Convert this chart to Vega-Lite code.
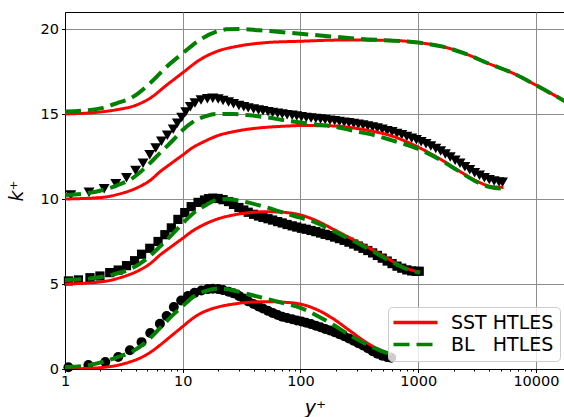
{
  "$schema": "https://vega.github.io/schema/vega-lite/v6.json",
  "width": 500,
  "height": 357,
  "autosize": {"type": "none"},
  "padding": {"left": 65, "top": 12, "right": 0, "bottom": 48},
  "background": "white",
  "config": {
    "view": {"stroke": "#000000", "strokeWidth": 1},
    "font": "DejaVu Sans",
    "axis": {
      "domainColor": "#000000", "domainWidth": 1,
      "tickColor": "#000000", "tickWidth": 1,
      "labelColor": "#000000", "titleColor": "#000000",
      "labelFont": "DejaVu Sans", "labelFontSize": 14.5,
      "titleFont": "DejaVu Sans",
      "gridColor": "#8c8c8c", "gridWidth": 1
    }
  },
  "datasets": {
    "dns": [
      {"c":"550","yp":1.07,"kp":0.1},{"c":"550","yp":1.58,"kp":0.24},{"c":"550","yp":2.2,"kp":0.41},{"c":"550","yp":2.83,"kp":0.71},{"c":"550","yp":3.56,"kp":1.1},{"c":"550","yp":4.47,"kp":1.58},{"c":"550","yp":5.3,"kp":2.12},{"c":"550","yp":6.4,"kp":2.66},{"c":"550","yp":7.3,"kp":3.12},{"c":"550","yp":8.4,"kp":3.65},{"c":"550","yp":9.7,"kp":4.03},{"c":"550","yp":11.1,"kp":4.3},{"c":"550","yp":12.6,"kp":4.48},{"c":"550","yp":14.4,"kp":4.62},{"c":"550","yp":16.3,"kp":4.7},
      {"c":"550","yp":18,"kp":4.72},{"c":"550","yp":20,"kp":4.7},{"c":"550","yp":22,"kp":4.64},{"c":"550","yp":24.5,"kp":4.55},{"c":"550","yp":27,"kp":4.45},{"c":"550","yp":30,"kp":4.3},{"c":"550","yp":33,"kp":4.15},{"c":"550","yp":36,"kp":3.98},{"c":"550","yp":40,"kp":3.82},{"c":"550","yp":44,"kp":3.68},{"c":"550","yp":48,"kp":3.56},{"c":"550","yp":53,"kp":3.42},{"c":"550","yp":58,"kp":3.3},{"c":"550","yp":64,"kp":3.18},{"c":"550","yp":70,"kp":3.07},{"c":"550","yp":77,"kp":3.0},{"c":"550","yp":85,"kp":2.93},{"c":"550","yp":93,"kp":2.86},{"c":"550","yp":102,"kp":2.8},{"c":"550","yp":112,"kp":2.72},{"c":"550","yp":123,"kp":2.64},{"c":"550","yp":135,"kp":2.55},{"c":"550","yp":148,"kp":2.46},{"c":"550","yp":162,"kp":2.36},{"c":"550","yp":178,"kp":2.26},{"c":"550","yp":195,"kp":2.16},{"c":"550","yp":214,"kp":2.05},{"c":"550","yp":235,"kp":1.93},{"c":"550","yp":258,"kp":1.8},{"c":"550","yp":283,"kp":1.66},{"c":"550","yp":310,"kp":1.52},{"c":"550","yp":340,"kp":1.38},{"c":"550","yp":373,"kp":1.22},{"c":"550","yp":410,"kp":1.05},{"c":"550","yp":450,"kp":0.9},{"c":"550","yp":495,"kp":0.78},{"c":"550","yp":545,"kp":0.7},{"c":"550","yp":590,"kp":0.66},
      {"c":"1000","yp":1.07,"kp":5.18},{"c":"1000","yp":1.3,"kp":5.24},{"c":"1000","yp":1.63,"kp":5.37},{"c":"1000","yp":1.98,"kp":5.47},{"c":"1000","yp":2.4,"kp":5.67},{"c":"1000","yp":2.83,"kp":5.82},{"c":"1000","yp":3.33,"kp":6.08},{"c":"1000","yp":3.9,"kp":6.37},{"c":"1000","yp":4.47,"kp":6.75},{"c":"1000","yp":5.25,"kp":7.1},{"c":"1000","yp":6.17,"kp":7.5},{"c":"1000","yp":7.05,"kp":7.9},{"c":"1000","yp":8.0,"kp":8.3},{"c":"1000","yp":9.1,"kp":8.8},{"c":"1000","yp":10.4,"kp":9.2},{"c":"1000","yp":11.8,"kp":9.55},{"c":"1000","yp":13.5,"kp":9.8},{"c":"1000","yp":15.3,"kp":9.94},{"c":"1000","yp":16.6,"kp":10.02},
      {"c":"1000","yp":18,"kp":10.05},{"c":"1000","yp":20,"kp":10.03},{"c":"1000","yp":22,"kp":9.96},{"c":"1000","yp":24.5,"kp":9.85},{"c":"1000","yp":27,"kp":9.68},{"c":"1000","yp":30,"kp":9.5},{"c":"1000","yp":33,"kp":9.35},{"c":"1000","yp":36,"kp":9.22},{"c":"1000","yp":40,"kp":9.1},{"c":"1000","yp":44,"kp":9.0},{"c":"1000","yp":48,"kp":8.92},{"c":"1000","yp":53,"kp":8.84},{"c":"1000","yp":58,"kp":8.76},{"c":"1000","yp":64,"kp":8.67},{"c":"1000","yp":70,"kp":8.59},{"c":"1000","yp":77,"kp":8.5},{"c":"1000","yp":85,"kp":8.42},{"c":"1000","yp":93,"kp":8.35},{"c":"1000","yp":102,"kp":8.28},{"c":"1000","yp":112,"kp":8.22},{"c":"1000","yp":123,"kp":8.15},{"c":"1000","yp":135,"kp":8.08},{"c":"1000","yp":148,"kp":8.0},{"c":"1000","yp":162,"kp":7.92},{"c":"1000","yp":178,"kp":7.85},{"c":"1000","yp":195,"kp":7.76},{"c":"1000","yp":214,"kp":7.67},{"c":"1000","yp":235,"kp":7.57},{"c":"1000","yp":258,"kp":7.46},{"c":"1000","yp":283,"kp":7.35},{"c":"1000","yp":310,"kp":7.23},{"c":"1000","yp":340,"kp":7.1},{"c":"1000","yp":373,"kp":6.97},{"c":"1000","yp":410,"kp":6.83},{"c":"1000","yp":450,"kp":6.68},{"c":"1000","yp":495,"kp":6.52},{"c":"1000","yp":545,"kp":6.35},{"c":"1000","yp":600,"kp":6.2},{"c":"1000","yp":660,"kp":6.05},{"c":"1000","yp":725,"kp":5.93},{"c":"1000","yp":800,"kp":5.83},{"c":"1000","yp":880,"kp":5.77},{"c":"1000","yp":960,"kp":5.74},{"c":"1000","yp":1020,"kp":5.75},
      {"c":"5200","yp":1.12,"kp":10.24},{"c":"5200","yp":1.6,"kp":10.4},{"c":"5200","yp":2.15,"kp":10.6},{"c":"5200","yp":2.7,"kp":10.9},{"c":"5200","yp":3.33,"kp":11.25},{"c":"5200","yp":3.98,"kp":11.68},{"c":"5200","yp":4.6,"kp":12.1},{"c":"5200","yp":5.25,"kp":12.6},{"c":"5200","yp":5.9,"kp":13.0},{"c":"5200","yp":6.6,"kp":13.4},{"c":"5200","yp":7.4,"kp":13.75},{"c":"5200","yp":8.3,"kp":14.1},{"c":"5200","yp":9.0,"kp":14.45},{"c":"5200","yp":9.8,"kp":14.8},{"c":"5200","yp":10.6,"kp":15.12},{"c":"5200","yp":11.6,"kp":15.42},{"c":"5200","yp":12.7,"kp":15.65},{"c":"5200","yp":14.3,"kp":15.82},{"c":"5200","yp":16.2,"kp":15.9},
      {"c":"5200","yp":18,"kp":15.92},{"c":"5200","yp":20,"kp":15.88},{"c":"5200","yp":22,"kp":15.8},{"c":"5200","yp":24.5,"kp":15.7},{"c":"5200","yp":27,"kp":15.6},{"c":"5200","yp":30,"kp":15.5},{"c":"5200","yp":33,"kp":15.42},{"c":"5200","yp":36,"kp":15.36},{"c":"5200","yp":40,"kp":15.3},{"c":"5200","yp":44,"kp":15.24},{"c":"5200","yp":48,"kp":15.19},{"c":"5200","yp":53,"kp":15.14},{"c":"5200","yp":58,"kp":15.09},{"c":"5200","yp":64,"kp":15.04},{"c":"5200","yp":70,"kp":15.0},{"c":"5200","yp":77,"kp":14.96},{"c":"5200","yp":85,"kp":14.92},{"c":"5200","yp":93,"kp":14.88},{"c":"5200","yp":102,"kp":14.84},{"c":"5200","yp":112,"kp":14.8},{"c":"5200","yp":123,"kp":14.77},{"c":"5200","yp":135,"kp":14.73},{"c":"5200","yp":148,"kp":14.7},{"c":"5200","yp":162,"kp":14.67},{"c":"5200","yp":178,"kp":14.63},{"c":"5200","yp":195,"kp":14.6},{"c":"5200","yp":214,"kp":14.56},{"c":"5200","yp":235,"kp":14.52},{"c":"5200","yp":258,"kp":14.48},{"c":"5200","yp":283,"kp":14.44},{"c":"5200","yp":310,"kp":14.4},{"c":"5200","yp":340,"kp":14.35},{"c":"5200","yp":373,"kp":14.3},{"c":"5200","yp":410,"kp":14.24},{"c":"5200","yp":450,"kp":14.17},{"c":"5200","yp":495,"kp":14.1},{"c":"5200","yp":545,"kp":14.02},{"c":"5200","yp":600,"kp":13.95},{"c":"5200","yp":660,"kp":13.86},{"c":"5200","yp":725,"kp":13.78},{"c":"5200","yp":800,"kp":13.68},{"c":"5200","yp":880,"kp":13.58},{"c":"5200","yp":965,"kp":13.48},{"c":"5200","yp":1060,"kp":13.37},{"c":"5200","yp":1165,"kp":13.25},{"c":"5200","yp":1280,"kp":13.12},{"c":"5200","yp":1410,"kp":12.97},{"c":"5200","yp":1550,"kp":12.82},{"c":"5200","yp":1700,"kp":12.65},{"c":"5200","yp":1870,"kp":12.47},{"c":"5200","yp":2060,"kp":12.28},{"c":"5200","yp":2265,"kp":12.1},{"c":"5200","yp":2490,"kp":11.9},{"c":"5200","yp":2740,"kp":11.72},{"c":"5200","yp":3015,"kp":11.55},{"c":"5200","yp":3315,"kp":11.4},{"c":"5200","yp":3650,"kp":11.25},{"c":"5200","yp":4015,"kp":11.14},{"c":"5200","yp":4415,"kp":11.06},{"c":"5200","yp":4860,"kp":11.0},{"c":"5200","yp":5200,"kp":10.99}
    ],
    "lines": [
      {"m":"SST HTLES","g":0,"yp":1,"kp":0.0},{"m":"SST HTLES","g":0,"yp":1.5,"kp":0.03},{"m":"SST HTLES","g":0,"yp":2,"kp":0.08},{"m":"SST HTLES","g":0,"yp":2.8,"kp":0.22},{"m":"SST HTLES","g":0,"yp":3.5,"kp":0.4},{"m":"SST HTLES","g":0,"yp":4.3,"kp":0.63},{"m":"SST HTLES","g":0,"yp":5.3,"kp":0.98},{"m":"SST HTLES","g":0,"yp":6.4,"kp":1.4},{"m":"SST HTLES","g":0,"yp":8,"kp":1.95},{"m":"SST HTLES","g":0,"yp":10,"kp":2.5},{"m":"SST HTLES","g":0,"yp":12,"kp":2.95},{"m":"SST HTLES","g":0,"yp":14,"kp":3.25},{"m":"SST HTLES","g":0,"yp":17,"kp":3.5},{"m":"SST HTLES","g":0,"yp":20,"kp":3.65},{"m":"SST HTLES","g":0,"yp":27,"kp":3.82},{"m":"SST HTLES","g":0,"yp":37,"kp":3.93},{"m":"SST HTLES","g":0,"yp":52,"kp":3.96},{"m":"SST HTLES","g":0,"yp":71,"kp":3.93},{"m":"SST HTLES","g":0,"yp":100,"kp":3.82},{"m":"SST HTLES","g":0,"yp":137,"kp":3.5},{"m":"SST HTLES","g":0,"yp":190,"kp":2.95},{"m":"SST HTLES","g":0,"yp":263,"kp":2.25},{"m":"SST HTLES","g":0,"yp":365,"kp":1.55},{"m":"SST HTLES","g":0,"yp":473,"kp":1.12},{"m":"SST HTLES","g":0,"yp":590,"kp":0.88},
      {"m":"SST HTLES","g":5,"yp":1,"kp":5.0},{"m":"SST HTLES","g":5,"yp":2.1,"kp":5.14},{"m":"SST HTLES","g":5,"yp":2.8,"kp":5.33},{"m":"SST HTLES","g":5,"yp":4.3,"kp":5.82},{"m":"SST HTLES","g":5,"yp":5.3,"kp":6.2},{"m":"SST HTLES","g":5,"yp":6.4,"kp":6.7},{"m":"SST HTLES","g":5,"yp":8,"kp":7.2},{"m":"SST HTLES","g":5,"yp":10,"kp":7.69},{"m":"SST HTLES","g":5,"yp":12,"kp":8.1},{"m":"SST HTLES","g":5,"yp":14.9,"kp":8.47},{"m":"SST HTLES","g":5,"yp":20.5,"kp":8.86},{"m":"SST HTLES","g":5,"yp":27,"kp":9.06},{"m":"SST HTLES","g":5,"yp":37,"kp":9.2},{"m":"SST HTLES","g":5,"yp":52,"kp":9.25},{"m":"SST HTLES","g":5,"yp":71,"kp":9.22},{"m":"SST HTLES","g":5,"yp":100,"kp":9.06},{"m":"SST HTLES","g":5,"yp":137,"kp":8.72},{"m":"SST HTLES","g":5,"yp":190,"kp":8.22},{"m":"SST HTLES","g":5,"yp":265,"kp":7.7},{"m":"SST HTLES","g":5,"yp":302,"kp":7.5},{"m":"SST HTLES","g":5,"yp":365,"kp":7.2},{"m":"SST HTLES","g":5,"yp":505,"kp":6.65},{"m":"SST HTLES","g":5,"yp":700,"kp":6.1},{"m":"SST HTLES","g":5,"yp":850,"kp":5.85},{"m":"SST HTLES","g":5,"yp":1040,"kp":5.7},
      {"m":"SST HTLES","g":10,"yp":1,"kp":10.0},{"m":"SST HTLES","g":10,"yp":2.1,"kp":10.1},{"m":"SST HTLES","g":10,"yp":2.8,"kp":10.27},{"m":"SST HTLES","g":10,"yp":4.3,"kp":10.73},{"m":"SST HTLES","g":10,"yp":5.3,"kp":11.1},{"m":"SST HTLES","g":10,"yp":6.4,"kp":11.6},{"m":"SST HTLES","g":10,"yp":8,"kp":12.1},{"m":"SST HTLES","g":10,"yp":10,"kp":12.59},{"m":"SST HTLES","g":10,"yp":12,"kp":13.0},{"m":"SST HTLES","g":10,"yp":14.9,"kp":13.35},{"m":"SST HTLES","g":10,"yp":20.5,"kp":13.76},{"m":"SST HTLES","g":10,"yp":27,"kp":13.96},{"m":"SST HTLES","g":10,"yp":37,"kp":14.12},{"m":"SST HTLES","g":10,"yp":52,"kp":14.22},{"m":"SST HTLES","g":10,"yp":71,"kp":14.28},{"m":"SST HTLES","g":10,"yp":100,"kp":14.32},{"m":"SST HTLES","g":10,"yp":190,"kp":14.3},{"m":"SST HTLES","g":10,"yp":300,"kp":14.15},{"m":"SST HTLES","g":10,"yp":400,"kp":14.0},{"m":"SST HTLES","g":10,"yp":600,"kp":13.7},{"m":"SST HTLES","g":10,"yp":1000,"kp":13.05},{"m":"SST HTLES","g":10,"yp":1535,"kp":12.35},{"m":"SST HTLES","g":10,"yp":2140,"kp":11.72},{"m":"SST HTLES","g":10,"yp":3150,"kp":11.05},{"m":"SST HTLES","g":10,"yp":4070,"kp":10.75},{"m":"SST HTLES","g":10,"yp":5300,"kp":10.68},
      {"m":"SST HTLES","g":15,"yp":1,"kp":15.0},{"m":"SST HTLES","g":15,"yp":2,"kp":15.12},{"m":"SST HTLES","g":15,"yp":2.74,"kp":15.25},{"m":"SST HTLES","g":15,"yp":4.05,"kp":15.53},{"m":"SST HTLES","g":15,"yp":5.25,"kp":15.92},{"m":"SST HTLES","g":15,"yp":7.3,"kp":16.7},{"m":"SST HTLES","g":15,"yp":10,"kp":17.43},{"m":"SST HTLES","g":15,"yp":13.9,"kp":18.18},{"m":"SST HTLES","g":15,"yp":19.3,"kp":18.67},{"m":"SST HTLES","g":15,"yp":30,"kp":19.0},{"m":"SST HTLES","g":15,"yp":51,"kp":19.2},{"m":"SST HTLES","g":15,"yp":100,"kp":19.28},{"m":"SST HTLES","g":15,"yp":228,"kp":19.35},{"m":"SST HTLES","g":15,"yp":600,"kp":19.33},{"m":"SST HTLES","g":15,"yp":1000,"kp":19.2},{"m":"SST HTLES","g":15,"yp":1620,"kp":18.96},{"m":"SST HTLES","g":15,"yp":2400,"kp":18.6},{"m":"SST HTLES","g":15,"yp":3860,"kp":18.0},{"m":"SST HTLES","g":15,"yp":6430,"kp":17.39},{"m":"SST HTLES","g":15,"yp":10000,"kp":16.7},{"m":"SST HTLES","g":15,"yp":17650,"kp":15.75},
      {"m":"BL\u00a0\u00a0\u00a0HTLES","g":0,"yp":1,"kp":0.12},{"m":"BL\u00a0\u00a0\u00a0HTLES","g":0,"yp":1.5,"kp":0.2},{"m":"BL\u00a0\u00a0\u00a0HTLES","g":0,"yp":2.1,"kp":0.42},{"m":"BL\u00a0\u00a0\u00a0HTLES","g":0,"yp":2.8,"kp":0.7},{"m":"BL\u00a0\u00a0\u00a0HTLES","g":0,"yp":3.7,"kp":1.02},{"m":"BL\u00a0\u00a0\u00a0HTLES","g":0,"yp":4.9,"kp":1.6},{"m":"BL\u00a0\u00a0\u00a0HTLES","g":0,"yp":6.4,"kp":2.4},{"m":"BL\u00a0\u00a0\u00a0HTLES","g":0,"yp":8.3,"kp":3.2},{"m":"BL\u00a0\u00a0\u00a0HTLES","g":0,"yp":10,"kp":3.7},{"m":"BL\u00a0\u00a0\u00a0HTLES","g":0,"yp":12.3,"kp":4.25},{"m":"BL\u00a0\u00a0\u00a0HTLES","g":0,"yp":15.8,"kp":4.6},{"m":"BL\u00a0\u00a0\u00a0HTLES","g":0,"yp":19.3,"kp":4.72},{"m":"BL\u00a0\u00a0\u00a0HTLES","g":0,"yp":23,"kp":4.7},{"m":"BL\u00a0\u00a0\u00a0HTLES","g":0,"yp":27,"kp":4.62},{"m":"BL\u00a0\u00a0\u00a0HTLES","g":0,"yp":37,"kp":4.38},{"m":"BL\u00a0\u00a0\u00a0HTLES","g":0,"yp":52,"kp":4.12},{"m":"BL\u00a0\u00a0\u00a0HTLES","g":0,"yp":71,"kp":3.88},{"m":"BL\u00a0\u00a0\u00a0HTLES","g":0,"yp":100,"kp":3.6},{"m":"BL\u00a0\u00a0\u00a0HTLES","g":0,"yp":137,"kp":3.15},{"m":"BL\u00a0\u00a0\u00a0HTLES","g":0,"yp":190,"kp":2.6},{"m":"BL\u00a0\u00a0\u00a0HTLES","g":0,"yp":263,"kp":1.98},{"m":"BL\u00a0\u00a0\u00a0HTLES","g":0,"yp":365,"kp":1.45},{"m":"BL\u00a0\u00a0\u00a0HTLES","g":0,"yp":505,"kp":1.02},{"m":"BL\u00a0\u00a0\u00a0HTLES","g":0,"yp":590,"kp":0.88},
      {"m":"BL\u00a0\u00a0\u00a0HTLES","g":5,"yp":1,"kp":5.24},{"m":"BL\u00a0\u00a0\u00a0HTLES","g":5,"yp":1.5,"kp":5.3},{"m":"BL\u00a0\u00a0\u00a0HTLES","g":5,"yp":2.1,"kp":5.43},{"m":"BL\u00a0\u00a0\u00a0HTLES","g":5,"yp":2.8,"kp":5.63},{"m":"BL\u00a0\u00a0\u00a0HTLES","g":5,"yp":3.7,"kp":5.92},{"m":"BL\u00a0\u00a0\u00a0HTLES","g":5,"yp":4.9,"kp":6.47},{"m":"BL\u00a0\u00a0\u00a0HTLES","g":5,"yp":6.4,"kp":7.2},{"m":"BL\u00a0\u00a0\u00a0HTLES","g":5,"yp":8.3,"kp":7.98},{"m":"BL\u00a0\u00a0\u00a0HTLES","g":5,"yp":10,"kp":8.57},{"m":"BL\u00a0\u00a0\u00a0HTLES","g":5,"yp":12.3,"kp":9.16},{"m":"BL\u00a0\u00a0\u00a0HTLES","g":5,"yp":15.8,"kp":9.65},{"m":"BL\u00a0\u00a0\u00a0HTLES","g":5,"yp":19.4,"kp":9.95},{"m":"BL\u00a0\u00a0\u00a0HTLES","g":5,"yp":23.5,"kp":10.0},{"m":"BL\u00a0\u00a0\u00a0HTLES","g":5,"yp":27,"kp":9.96},{"m":"BL\u00a0\u00a0\u00a0HTLES","g":5,"yp":37,"kp":9.77},{"m":"BL\u00a0\u00a0\u00a0HTLES","g":5,"yp":52,"kp":9.5},{"m":"BL\u00a0\u00a0\u00a0HTLES","g":5,"yp":71,"kp":9.2},{"m":"BL\u00a0\u00a0\u00a0HTLES","g":5,"yp":100,"kp":8.9},{"m":"BL\u00a0\u00a0\u00a0HTLES","g":5,"yp":137,"kp":8.6},{"m":"BL\u00a0\u00a0\u00a0HTLES","g":5,"yp":190,"kp":8.12},{"m":"BL\u00a0\u00a0\u00a0HTLES","g":5,"yp":265,"kp":7.62},{"m":"BL\u00a0\u00a0\u00a0HTLES","g":5,"yp":365,"kp":7.12},{"m":"BL\u00a0\u00a0\u00a0HTLES","g":5,"yp":505,"kp":6.58},{"m":"BL\u00a0\u00a0\u00a0HTLES","g":5,"yp":700,"kp":6.05},{"m":"BL\u00a0\u00a0\u00a0HTLES","g":5,"yp":850,"kp":5.8},{"m":"BL\u00a0\u00a0\u00a0HTLES","g":5,"yp":1040,"kp":5.68},
      {"m":"BL\u00a0\u00a0\u00a0HTLES","g":10,"yp":1,"kp":10.24},{"m":"BL\u00a0\u00a0\u00a0HTLES","g":10,"yp":1.5,"kp":10.33},{"m":"BL\u00a0\u00a0\u00a0HTLES","g":10,"yp":2.1,"kp":10.53},{"m":"BL\u00a0\u00a0\u00a0HTLES","g":10,"yp":2.8,"kp":10.82},{"m":"BL\u00a0\u00a0\u00a0HTLES","g":10,"yp":3.7,"kp":11.2},{"m":"BL\u00a0\u00a0\u00a0HTLES","g":10,"yp":4.9,"kp":11.9},{"m":"BL\u00a0\u00a0\u00a0HTLES","g":10,"yp":6.4,"kp":12.7},{"m":"BL\u00a0\u00a0\u00a0HTLES","g":10,"yp":8.3,"kp":13.47},{"m":"BL\u00a0\u00a0\u00a0HTLES","g":10,"yp":10,"kp":14.06},{"m":"BL\u00a0\u00a0\u00a0HTLES","g":10,"yp":12.3,"kp":14.55},{"m":"BL\u00a0\u00a0\u00a0HTLES","g":10,"yp":15.8,"kp":14.88},{"m":"BL\u00a0\u00a0\u00a0HTLES","g":10,"yp":19.3,"kp":15.0},{"m":"BL\u00a0\u00a0\u00a0HTLES","g":10,"yp":26.9,"kp":15.0},{"m":"BL\u00a0\u00a0\u00a0HTLES","g":10,"yp":37,"kp":14.92},{"m":"BL\u00a0\u00a0\u00a0HTLES","g":10,"yp":52,"kp":14.8},{"m":"BL\u00a0\u00a0\u00a0HTLES","g":10,"yp":71,"kp":14.65},{"m":"BL\u00a0\u00a0\u00a0HTLES","g":10,"yp":100,"kp":14.5},{"m":"BL\u00a0\u00a0\u00a0HTLES","g":10,"yp":140,"kp":14.37},{"m":"BL\u00a0\u00a0\u00a0HTLES","g":10,"yp":190,"kp":14.27},{"m":"BL\u00a0\u00a0\u00a0HTLES","g":10,"yp":300,"kp":13.97},{"m":"BL\u00a0\u00a0\u00a0HTLES","g":10,"yp":400,"kp":13.8},{"m":"BL\u00a0\u00a0\u00a0HTLES","g":10,"yp":600,"kp":13.45},{"m":"BL\u00a0\u00a0\u00a0HTLES","g":10,"yp":1000,"kp":12.95},{"m":"BL\u00a0\u00a0\u00a0HTLES","g":10,"yp":1535,"kp":12.3},{"m":"BL\u00a0\u00a0\u00a0HTLES","g":10,"yp":2140,"kp":11.7},{"m":"BL\u00a0\u00a0\u00a0HTLES","g":10,"yp":3150,"kp":11.0},{"m":"BL\u00a0\u00a0\u00a0HTLES","g":10,"yp":4070,"kp":10.7},{"m":"BL\u00a0\u00a0\u00a0HTLES","g":10,"yp":5300,"kp":10.6},
      {"m":"BL\u00a0\u00a0\u00a0HTLES","g":15,"yp":1,"kp":15.14},{"m":"BL\u00a0\u00a0\u00a0HTLES","g":15,"yp":1.43,"kp":15.2},{"m":"BL\u00a0\u00a0\u00a0HTLES","g":15,"yp":2,"kp":15.33},{"m":"BL\u00a0\u00a0\u00a0HTLES","g":15,"yp":2.74,"kp":15.63},{"m":"BL\u00a0\u00a0\u00a0HTLES","g":15,"yp":3.8,"kp":16.02},{"m":"BL\u00a0\u00a0\u00a0HTLES","g":15,"yp":5.25,"kp":16.8},{"m":"BL\u00a0\u00a0\u00a0HTLES","g":15,"yp":7.3,"kp":17.78},{"m":"BL\u00a0\u00a0\u00a0HTLES","g":15,"yp":10,"kp":18.57},{"m":"BL\u00a0\u00a0\u00a0HTLES","g":15,"yp":13.9,"kp":19.35},{"m":"BL\u00a0\u00a0\u00a0HTLES","g":15,"yp":19.3,"kp":19.84},{"m":"BL\u00a0\u00a0\u00a0HTLES","g":15,"yp":23.4,"kp":19.98},{"m":"BL\u00a0\u00a0\u00a0HTLES","g":15,"yp":30,"kp":20.0},{"m":"BL\u00a0\u00a0\u00a0HTLES","g":15,"yp":45,"kp":19.92},{"m":"BL\u00a0\u00a0\u00a0HTLES","g":15,"yp":100,"kp":19.72},{"m":"BL\u00a0\u00a0\u00a0HTLES","g":15,"yp":316,"kp":19.42},{"m":"BL\u00a0\u00a0\u00a0HTLES","g":15,"yp":1000,"kp":19.2},{"m":"BL\u00a0\u00a0\u00a0HTLES","g":15,"yp":1620,"kp":18.96},{"m":"BL\u00a0\u00a0\u00a0HTLES","g":15,"yp":2400,"kp":18.6},{"m":"BL\u00a0\u00a0\u00a0HTLES","g":15,"yp":3860,"kp":18.0},{"m":"BL\u00a0\u00a0\u00a0HTLES","g":15,"yp":6430,"kp":17.39},{"m":"BL\u00a0\u00a0\u00a0HTLES","g":15,"yp":10000,"kp":16.7},{"m":"BL\u00a0\u00a0\u00a0HTLES","g":15,"yp":17650,"kp":15.75}
    ]
  },
  "encoding": {
    "x": {
      "field": "yp", "type": "quantitative",
      "scale": {"type": "log", "domain": [1, 17650], "nice": false},
      "axis": {
        "values": [1,2,3,4,5,6,7,8,9,10,20,30,40,50,60,70,80,90,100,200,300,400,500,600,700,800,900,1000,2000,3000,4000,5000,6000,7000,8000,9000,10000],
        "format": "d",
        "labelExpr": "indexof([1,10,100,1000,10000], datum.value) >= 0 ? datum.label : ''",
        "tickSize": {"condition": {"test": "indexof([1,10,100,1000,10000], datum.value) >= 0", "value": 3.5}, "value": 2},
        "gridOpacity": {"condition": {"test": "indexof([1,10,100,1000,10000], datum.value) >= 0", "value": 1}, "value": 0},
        "labelFlush": false, "labelOverlap": false, "labelPadding": 2,
        "title": "y⁺", "titleFontSize": 19, "titleFontStyle": "italic", "titleFontWeight": "normal", "titlePadding": 10
      }
    },
    "y": {
      "field": "kp", "type": "quantitative",
      "scale": {"domain": [0, 21], "nice": false, "zero": false},
      "axis": {
        "values": [0, 5, 10, 15, 20], "tickSize": 3.5, "labelPadding": 3, "labelFlush": false,
        "title": "k⁺", "titleFontSize": 19, "titleFontStyle": "italic", "titleFontWeight": "normal", "titlePadding": 14
      }
    }
  },
  "layer": [
    {
      "data": {"name": "dns"},
      "transform": [{"filter": "datum.c == '550'"}],
      "mark": {"type": "point", "shape": "circle", "filled": true, "color": "#000000", "opacity": 1, "size": 100}
    },
    {
      "data": {"name": "dns"},
      "transform": [{"filter": "datum.c == '1000'"}],
      "mark": {"type": "point", "shape": "square", "filled": true, "color": "#000000", "opacity": 1, "size": 85}
    },
    {
      "data": {"name": "dns"},
      "transform": [{"filter": "datum.c == '5200'"}],
      "mark": {"type": "point", "shape": "triangle-down", "filled": true, "color": "#000000", "opacity": 1, "size": 120}
    },
    {
      "data": {"name": "lines"},
      "transform": [{"filter": "datum.m == 'SST HTLES'"}],
      "mark": {"type": "line", "strokeWidth": 3, "clip": true, "interpolate": "monotone"},
      "encoding": {
        "color": {"field": "m", "type": "nominal", "scale": {"domain": ["SST HTLES", "BL\u00a0\u00a0\u00a0HTLES"], "range": ["#ff0000", "#008000"]},
          "legend": {"orient": "none", "legendX": 323, "legendY": 295, "title": null, "labelFontSize": 19, "labelFont": "DejaVu Sans", "labelColor": "#000000",
            "symbolType": "M-4,0H4", "symbolSize": 121, "symbolStrokeWidth": 3.5, "symbolOffset": 12, "labelOffset": 26, "padding": 6, "rowPadding": 2,
            "fillColor": "rgba(255,255,255,0.8)", "strokeColor": "#cccccc", "cornerRadius": 4}},
        "strokeDash": {"field": "m", "type": "nominal", "scale": {"domain": ["SST HTLES", "BL\u00a0\u00a0\u00a0HTLES"], "range": [[1, 0], [16, 7]]}},
        "detail": {"field": "g"},
        "order": {"field": "yp"}
      }
    },
    {
      "data": {"name": "lines"},
      "transform": [{"filter": "datum.m != 'SST HTLES'"}],
      "mark": {"type": "line", "strokeWidth": 4, "clip": true, "interpolate": "monotone"},
      "encoding": {
        "color": {"field": "m", "type": "nominal"},
        "strokeDash": {"field": "m", "type": "nominal"},
        "detail": {"field": "g"},
        "order": {"field": "yp"}
      }
    }
  ]
}
